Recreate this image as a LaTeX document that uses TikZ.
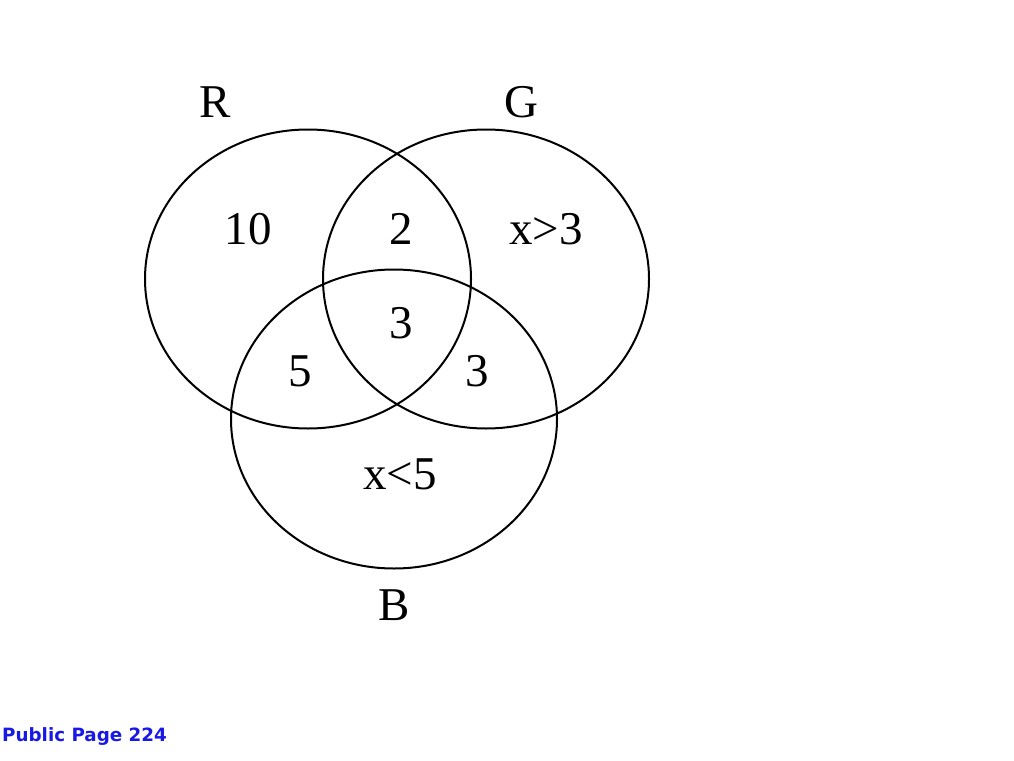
\documentclass[tikz,border=0pt]{standalone}
\usepackage{fontspec}
\setmainfont{Liberation Serif}
\newfontfamily\pagefont{DejaVu Sans}
\usepackage[dvipsnames]{xcolor}
\definecolor{pageblue}{RGB}{25,25,230}

\begin{document}
\begin{tikzpicture}[x=1pt,y=-1pt,
    setline/.style={line width=2pt},
    setlabel/.style={anchor=base,inner sep=0pt,font=\fontsize{47}{56}\selectfont}]
            \useasboundingbox (0,0) rectangle (1014,760);
            % Set ellipses
            \foreach \cx/\cy in {308/279, 486/279, 394/419} {
                \draw[setline] (\cx,\cy) ellipse [x radius=163, y radius=149.5];
            }
            % Set names
            \node[setlabel] (nameR) at (215,117) {R};
            \node[setlabel] (nameG) at (521,117) {G};
            \node[setlabel] (nameB) at (394,620) {B};
            % Region counts
            \node[setlabel] (onlyR) at (248,244) {10};
            \node[setlabel] (RG) at (401,244) {2};
            \node[setlabel] (onlyG) at (546,244) {x>3};
            \node[setlabel] (RGB) at (401,338) {3};
            \node[setlabel] (RB) at (300,386) {5};
            \node[setlabel] (GB) at (477,386) {3};
            \node[setlabel] (onlyB) at (400,489) {x<5};
            % Page note
            \node[anchor=base west,inner sep=0pt,text=pageblue,
                font=\pagefont\bfseries\fontsize{18.3}{22}\selectfont] (page) at (2,741) {Public Page 224};
        \end{tikzpicture}
\end{document}
